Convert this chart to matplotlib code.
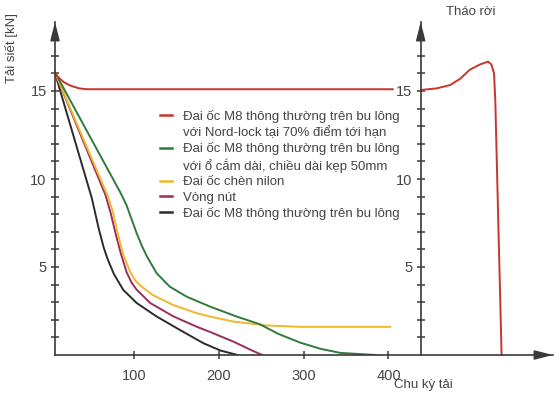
import matplotlib
matplotlib.use("Agg")
import matplotlib.pyplot as plt
from matplotlib.lines import Line2D
from matplotlib.ticker import FixedLocator, NullLocator

plt.rcParams['font.family'] = ['Liberation Sans', 'DejaVu Sans']

# ---- data ----
red_x = [6, 10, 17, 25, 35, 44, 405]
red_y = [16.1, 15.8, 15.5, 15.3, 15.15, 15.1, 15.1]

red_release_x = [439, 457, 473, 485, 496, 508, 518, 522, 525, 526.5, 534]
red_release_y = [15.06, 15.15, 15.34, 15.7, 16.2, 16.5, 16.67, 16.5, 16.0, 14.5, 0.0]

green_x = [6, 84, 91, 97, 103, 109, 115, 126.5, 142, 162, 189.5, 220, 248, 270, 296, 320, 343, 385]
green_y = [16.1, 9.2, 8.5, 7.7, 6.9, 6.2, 5.6, 4.64, 3.88, 3.31, 2.75, 2.2, 1.75, 1.2, 0.7, 0.35, 0.12, 0.0]

yellow_x = [6, 69, 75, 80, 87, 95, 101, 107, 122, 146, 174, 190, 217, 256, 296, 402]
yellow_y = [16.1, 9.0, 8.1, 7.0, 5.7, 4.75, 4.25, 3.95, 3.4, 2.84, 2.37, 2.18, 1.9, 1.68, 1.6, 1.6]

purple_x = [6, 66, 72, 78, 84, 91, 97, 103, 119, 146, 174, 190, 217, 237, 251]
purple_y = [16.1, 9.1, 8.1, 6.9, 5.8, 4.7, 4.1, 3.7, 2.95, 2.2, 1.6, 1.3, 0.76, 0.3, 0.0]

black_x = [6, 50, 58, 64, 69, 76, 87, 103, 126, 154, 182, 202, 222]
black_y = [16.1, 8.9, 7.2, 6.1, 5.4, 4.6, 3.7, 2.95, 2.2, 1.42, 0.66, 0.25, 0.0]

x_ticks = [100, 200, 300, 400]
y_ticks = [5, 10, 15]

labels = [
    "Đai ốc M8 thông thường trên bu lông",
    "với Nord-lock tại 70% điểm tới hạn",
    "Đai ốc M8 thông thường trên bu lông",
    "với ổ cắm dài, chiều dài kẹp 50mm",
    "Đai ốc chèn nilon",
    "Vòng nút",
    "Đai ốc M8 thông thường trên bu lông",
]

c_red = '#c8352c'
c_green = '#2f7a3c'
c_yellow = '#f2b62c'
c_purple = '#9a2d5c'
c_black = '#2b2b2b'
c_axis = '#3a3a3a'
c_text = '#444444'

W, H = 554, 396
fig = plt.figure(figsize=(W / 100, H / 100), dpi=100)


def rect(x0, y0, x1, y1):
    return [x0 / W, 1 - y1 / H, (x1 - x0) / W, (y1 - y0) / H]


ymax = (355 - 22) / 17.6
ax1 = fig.add_axes(rect(55, 22, 420.7, 355))
ax2 = fig.add_axes(rect(420.7, 22, 553, 355))

lw = 1.4
ax1.plot(black_x, black_y, color=c_black, lw=lw, solid_joinstyle='round')
ax1.plot(purple_x, purple_y, color=c_purple, lw=lw, solid_joinstyle='round')
ax1.plot(yellow_x, yellow_y, color=c_yellow, lw=lw, solid_joinstyle='round')
ax1.plot(green_x, green_y, color=c_green, lw=lw, solid_joinstyle='round')
ax1.plot(red_x, red_y, color=c_red, lw=lw, solid_joinstyle='round')
ax2.plot(red_release_x, red_release_y, color=c_red, lw=lw, clip_on=False, solid_joinstyle='round')

ax1.set_xlim(6.5, 438)
ax2.set_xlim(438, 595)
for ax in (ax1, ax2):
    ax.set_ylim(0, ymax)
    ax.set_facecolor('none')
    ax.spines['top'].set_visible(False)
    ax.spines['right'].set_visible(False)
    for s in ('left', 'bottom'):
        ax.spines[s].set_color(c_axis)
        ax.spines[s].set_linewidth(1.2)
    ax.yaxis.set_major_locator(FixedLocator(y_ticks))
    ax.yaxis.set_minor_locator(FixedLocator([v for v in range(1, 18) if v % 5]))
    ax.tick_params(axis='y', which='both', direction='inout', length=6, width=1.1,
                   color=c_axis, labelcolor=c_text, labelsize=10.5, pad=3)
    ax.annotate('', xy=(0, 1), xycoords='axes fraction', xytext=(0, 0.955),
                arrowprops=dict(arrowstyle='-|>,head_length=1.1,head_width=0.28',
                                color=c_axis, lw=1.2, mutation_scale=10, shrinkA=0, shrinkB=0))

ax1.xaxis.set_major_locator(FixedLocator(x_ticks))
ax1.tick_params(axis='x', which='both', direction='inout', length=6, width=1.1,
                color=c_axis, labelcolor=c_text, labelsize=10.5, pad=7)
ax2.xaxis.set_major_locator(NullLocator())
ax2.annotate('', xy=(1, 0), xycoords='axes fraction', xytext=(0.9, 0),
             arrowprops=dict(arrowstyle='-|>,head_length=1.1,head_width=0.28',
                             color=c_axis, lw=1.2, mutation_scale=10, shrinkA=0, shrinkB=0))

# legend
handles = [
    Line2D([], [], color=c_red, lw=1.8),
    Line2D([], [], color='none'),
    Line2D([], [], color=c_green, lw=1.8),
    Line2D([], [], color='none'),
    Line2D([], [], color=c_yellow, lw=1.8),
    Line2D([], [], color=c_purple, lw=1.8),
    Line2D([], [], color=c_black, lw=1.8),
]
leg = ax1.legend(handles, labels, loc='upper left', frameon=False,
                 bbox_to_anchor=((160 - 55) / (420.7 - 55), (355 - 110) / (355 - 22)),
                 handlelength=0.9, handletextpad=0.85, labelspacing=0.24,
                 borderpad=0, borderaxespad=0, fontsize=9.5)
for t in leg.get_texts():
    t.set_color(c_text)

fig.text(12 / W, 1 - 48 / H, 'Tải siết [kN]', rotation=90, ha='center', va='center',
         fontsize=9.5, color=c_text)
fig.text(471 / W, 1 - 12 / H, 'Tháo rời', ha='center', va='center', fontsize=9.5, color=c_text)
fig.text(423 / W, 1 - 385 / H, 'Chu kỳ tải', ha='center', va='center', fontsize=9.5, color=c_text)

fig.savefig('out.png', dpi=100)
